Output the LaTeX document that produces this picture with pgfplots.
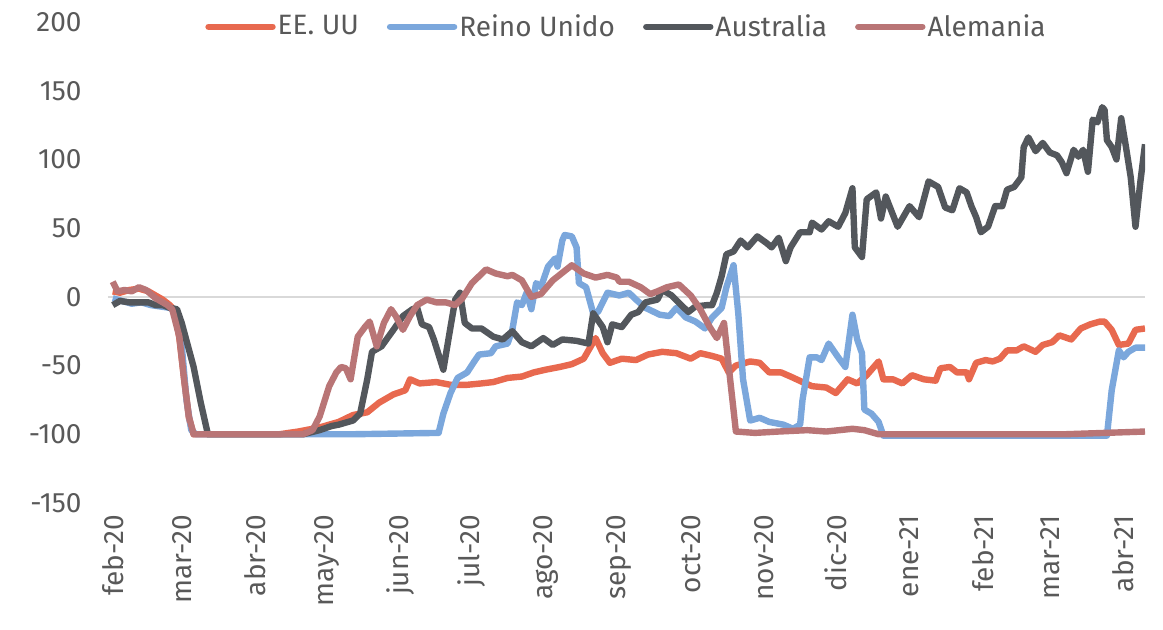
\documentclass[border=0pt]{standalone}
\usepackage{fontspec}
\setmainfont{Fira Sans}
\usepackage{pgfplots}
\pgfplotsset{compat=1.18}
\definecolor{usa}{HTML}{E8694F}
\definecolor{uk}{HTML}{7BA7DC}
\definecolor{aus}{HTML}{53575C}
\definecolor{ger}{HTML}{B97576}
\definecolor{txt}{HTML}{595959}
\definecolor{zero}{HTML}{D9D9D9}
\begin{document}
\begin{tikzpicture}
\useasboundingbox (-54pt,-63.5pt) rectangle (527.5pt,251.5pt);
\begin{axis}[
  scale only axis, width=518.5pt, height=240.5pt,
  xmin=-2, xmax=434, ymin=-150, ymax=200,
  axis line style={draw=none}, tick style={draw=none},
  ytick={-150,-100,...,200},
  yticklabels={-150,-100,-50,0,50,100,150,200},
  xtick={0,29,60,90,121,151,182,213,243,274,304,335,366,394,425},
  xticklabels={feb-20,mar-20,abr-20,may-20,jun-20,jul-20,ago-20,sep-20,oct-20,nov-20,dic-20,ene-21,feb-21,mar-21,abr-21},
  x tick label style={rotate=90, anchor=east, inner sep=0pt, font=\fontsize{14}{16}\selectfont, text=txt},
  y tick label style={inner sep=0pt, font=\fontsize{14}{16}\selectfont, text=txt},
  xticklabel shift=6pt, yticklabel shift=13pt,
  legend columns=4,
  legend style={at={(0.5,0.99)}, anchor=center, draw=none, fill=none,
    font=\fontsize{14}{16}\selectfont, text=txt, nodes={inner xsep=1pt},
    /tikz/every even column/.append style={column sep=13pt}},
  legend image code/.code={\draw[line width=3.2pt, line cap=round] (0pt,0pt) -- (32pt,0pt);},
  every axis plot/.append style={line width=3.2pt, line join=round, mark=none},
]
\addplot[zero, line width=1pt, forget plot] coordinates {(-2,0) (434,0)};

\addplot[usa] table {
0 4
3 3
7 5
11 6
15 4
18 1
21 -2
24 -6
26 -10
28 -30
30 -60
32 -88
34 -100
70 -100
78 -98
87 -95
95 -91
101 -86
107 -84
112 -77
118 -71
123 -68
125 -60
129 -63
136 -62
142 -64
149 -64
155 -63
160 -62
166 -59
172 -58
177 -55
182 -53
188 -51
193 -49
198 -45
203 -30
206 -41
209 -48
214 -45
220 -46
225 -42
231 -40
237 -41
243 -45
247 -41
252 -43
256 -45
259 -55
262 -50
268 -47
272 -48
276 -55
281 -55
285 -58
290 -62
294 -65
300 -66
304 -70
309 -60
313 -63
317 -57
322 -47
324 -60
328 -60
332 -63
336 -57
341 -60
346 -61
348 -52
352 -51
355 -55
359 -55
360 -60
363 -48
367 -46
370 -47
373 -45
376 -39
380 -39
383 -36
388 -40
391 -35
395 -33
398 -28
403 -31
407 -23
411 -20
415 -18
417 -18
420 -24
423 -35
427 -34
430 -24
434 -23
};
\addlegendentry{EE. UU}

\addplot[uk] table {
0 -1
4 -3
8 -5
12 -4
16 -6
20 -7
24 -8
27 -12
29 -35
31 -75
33 -97
35 -100
60 -100
100 -100
137 -99
139 -85
142 -70
145 -59
149 -55
152 -47
154 -42
159 -41
161 -36
166 -34
168 -24
170 -4
172 -6
174 3
176 -9
178 10
180 7
183 22
186 28
187 22
189 41
190 45
193 44
195 36
196 10
199 7
202 -12
204 -11
208 3
213 1
217 3
220 -2
224 -8
230 -13
234 -14
237 -8
241 -15
245 -18
249 -23
252 -15
256 -8
258 7
261 23
263 -12
265 -60
268 -90
272 -88
276 -91
282 -93
286 -96
289 -93
290 -75
293 -44
296 -44
298 -46
301 -34
305 -44
308 -51
311 -13
313 -31
315 -41
316 -82
319 -85
322 -91
324 -101
418 -101
420 -68
423 -39
425 -44
427 -40
430 -37
434 -37
};
\addlegendentry{Reino Unido}

\addplot[aus] table {
0 -6
3 -3
7 -4
11 -4
15 -4
18 -6
21 -6
24 -8
27 -9
29 -19
34 -51
37 -77
40 -100
80 -100
87 -97
92 -94
95 -93
101 -90
104 -85
107 -60
109 -40
113 -36
118 -24
122 -14
126 -9
128 -8
130 -20
133 -22
135 -31
139 -53
142 -22
144 -2
146 3
148 -19
151 -23
155 -23
160 -29
164 -31
168 -25
172 -33
176 -36
181 -30
185 -35
189 -31
195 -32
200 -34
202 -12
206 -22
208 -33
210 -20
214 -22
218 -13
221 -11
224 -4
229 -2
231 5
235 1
239 -6
242 -11
245 -7
250 -6
252 -6
254 3
256 15
258 31
261 33
264 41
267 36
271 44
275 39
277 36
280 43
283 26
285 36
289 47
293 47
294 54
298 49
301 55
305 51
308 61
311 79
312 36
315 29
317 71
321 76
323 57
325 73
330 51
335 66
339 58
343 84
347 80
350 65
353 63
356 79
359 76
361 66
363 58
365 47
368 51
371 66
374 66
376 78
379 80
382 87
383 109
385 116
388 106
391 112
394 105
397 103
399 98
401 90
404 107
406 102
408 107
410 91
412 129
414 127
416 138
417 136
418 114
420 109
422 100
424 130
426 109
428 87
430 51
432 83
434 111
};
\addlegendentry{Australia}

\addplot[ger] table {
0 11
2 4
5 5
8 4
11 7
14 5
18 -1
20 -3
23 -6
25 -9
28 -29
30 -60
32 -87
34 -100
80 -100
84 -97
87 -87
91 -65
94 -55
96 -51
98 -52
100 -60
103 -29
106 -22
108 -18
111 -36
114 -19
117 -9
119 -14
122 -24
125 -14
128 -6
132 -2
136 -4
140 -4
144 -6
147 -1
151 10
157 20
161 17
166 15
168 16
172 12
176 0
180 2
185 12
193 23
198 17
203 14
208 16
212 14
213 11
217 11
222 7
226 2
229 4
233 7
238 9
243 1
247 -9
251 -22
254 -30
257 -19
259 -51
262 -98
270 -99
280 -98
292 -97
300 -98
311 -96
316 -97
322 -100
400 -100
434 -98
};
\addlegendentry{Alemania}
\end{axis}
\end{tikzpicture}
\end{document}
